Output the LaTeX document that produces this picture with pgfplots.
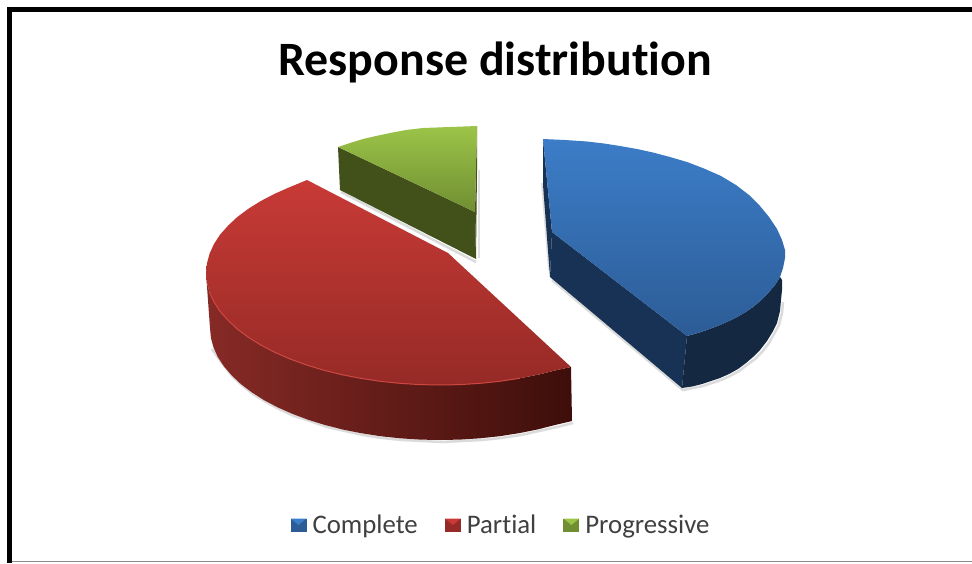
\documentclass[border=0pt]{standalone}
\usepackage{pgfplots}
\pgfplotsset{compat=1.18}
\usepackage{fontspec}
\setmainfont[Ligatures=CommonOff]{Carlito}
\definecolor{redtop}{RGB}{200,58,54}
\definecolor{redbot}{RGB}{150,42,38}
\definecolor{redsideL}{RGB}{135,42,38}
\definecolor{redsideR}{RGB}{62,14,10}
\definecolor{redrim}{RGB}{205,72,66}
\definecolor{bluetop}{RGB}{60,125,200}
\definecolor{bluebot}{RGB}{44,92,150}
\definecolor{blueside}{RGB}{23,50,84}
\definecolor{bluecurve}{RGB}{20,40,66}
\definecolor{greentop}{RGB}{156,196,72}
\definecolor{greenbot}{RGB}{112,142,50}
\definecolor{greenside}{RGB}{66,80,26}
\definecolor{legendtext}{RGB}{64,64,64}
\pgfplotsset{
  swatch/.style n args={2}{legend image code/.code={
    \path[draw=none, fill=none] (0pt,-7pt) rectangle (20pt,7pt);
    \fill[#1, draw=none] (0pt,-6.5pt) rectangle (16pt,6.5pt);
    \fill[#2, draw=none] (0pt,6.5pt) -- (16pt,6.5pt) -- (8pt,0pt) -- cycle;}}
}
\begin{document}
\begin{tikzpicture}
\begin{axis}[
  x=1pt, y=1pt, y dir=reverse,
  xmin=0, xmax=972, ymin=0, ymax=563,
  hide axis, clip=true,
  legend style={draw=none, fill=none, at={(axis cs:501,525)}, anchor=center,
    font=\fontsize{26.8}{30}\selectfont, text=legendtext,
    /tikz/every even column/.append style={column sep=25pt}},
  legend columns=3,
  legend cell align=left,
]
% page background and frame
\addplot[forget plot, fill=white, draw=none] coordinates {(0,0)(972,0)(972,563)(0,563)} -- cycle;
\addplot[forget plot, black, line width=5pt] coordinates {(9.5,563)(9.5,9.5)(972,9.5)};
\addplot[forget plot, black!45, line width=1.5pt] coordinates {(12,561.5)(972,561.5)};

% soft shadows under the slices
\addplot[forget plot, black!35, line width=2.5pt, opacity=.4] coordinates {(341,192)(476,262)};
\addplot[forget plot, black!35, line width=2.5pt, opacity=.4] coordinates {
  (212,349)(219,359)(226,368)(233,377)(243,386)(253,394)(266,402)(279,409)(294,416)(310,421)(327,427)(345,431)(363,435)(382,438)(402,440)(422,441)(442,442)(462,441)(482,440)(501,438)(521,435)(539,431)(557,427)(573,423)};
\addplot[forget plot, black!35, line width=2.5pt, opacity=.4] coordinates {(552,280)(683,390)(693,388)(703,386)(712,383)(721,380)(730,376)(739,371)(747,365)(755,359)(762,352)(769,343)(774,334)(779,325)(782,313)(783,302)};
\addplot[forget plot, black!30, line width=2pt, opacity=.4] coordinates {(479,170)(479,258)};
\addplot[forget plot, black!30, line width=2pt, opacity=.4] coordinates {(542,183)(549,270)};

% Progressive slice
\addplot[forget plot, fill=greenside, draw=none] coordinates {(338,147)(475,212)(476,259)(340,190)} -- cycle;
\addplot[forget plot, fill=greenside, draw=none] coordinates {(477,126)(475,212)(476,259)(477,170)} -- cycle;
\addplot[forget plot, top color=greentop, bottom color=greenbot, draw=none] coordinates {(338,147)(350,143)(363,139)(376,136)(390,133)(406,130)(423,128)(450,127)(477,126)(475,212)} -- cycle;

% Partial slice
\addplot[forget plot, left color=redsideL, right color=redsideR, draw=none] coordinates {
  (571,367)(557,370)(539,374.5)(520,378.2)(500.6,381.2)(480.6,383.3)(460.4,384.6)(440,385)(419.6,384.6)(399.4,383.3)(379.4,381.2)(360,378.2)(341,374.5)(323,370)(305.8,364.7)(289.6,358.8)(274.6,352.2)(260.8,345)(248.3,337.2)(237.3,329)(228,320.3)(220,311.3)(214,302)(209.6,292.4)(207,282.8)(206,273)
  (210,328)(210.9,337.8)(213.5,347.4)(217.8,357)(223.9,366.3)(231.6,375.3)(240.8,384)(251.6,392.2)(263.8,400)(277.4,407.2)(292.2,413.8)(308,419.7)(325,425)(342.7,429.5)(361.3,433.2)(380.4,436.2)(400,438.3)(420,439.6)(440,440)(460,439.6)(480,438.3)(499.6,436.2)(518.7,433.2)(537.3,429.5)(555,425)(572,421)} -- cycle;
\addplot[forget plot, top color=redtop, bottom color=redbot, draw=none] coordinates {
  (307,180)(448,253)(571,367)(557,370)(539,374.5)(520,378.2)(500.6,381.2)(480.6,383.3)(460.4,384.6)(440,385)(419.6,384.6)(399.4,383.3)(379.4,381.2)(360,378.2)(341,374.5)(323,370)(305.8,364.7)(289.6,358.8)(274.6,352.2)(260.8,345)(248.3,337.2)(237.3,329)(228,320.3)(220,311.3)(214,302)(209.6,292.4)(207,282.8)(206,273)(207,263.2)(209.6,253.6)(214,244)(220,234.7)(228,225.7)(237.3,217)(248.3,208.8)(260.8,201)(274.6,193.8)(289.6,187.2)} -- cycle;
\addplot[forget plot, redrim, line width=1pt] coordinates {(520,378.2)(500.6,381.2)(480.6,383.3)(460.4,384.6)(440,385)(419.6,384.6)(399.4,383.3)(379.4,381.2)(360,378.2)(341,374.5)(323,370)(305.8,364.7)(289.6,358.8)(274.6,352.2)(260.8,345)(248.3,337.2)(237.3,329)(228,320.3)(220,311.3)(214,302)(209.6,292.4)};

% Complete slice
\addplot[forget plot, fill=blueside, draw=none] coordinates {(543,139)(552,232)(550,277)(543,185)} -- cycle;
\addplot[forget plot, fill=blueside, draw=none] coordinates {(552,232)(687,336)(682,388)(550,277)} -- cycle;
\addplot[forget plot, fill=bluecurve, draw=none] coordinates {(687,336)(696,333.5)(704,331)(712,328)(720,325)(729,321)(737,317)(745,312.5)(753,307)(762,299.5)(769,292)(775,285)(780,277)(782,280)(782,290)(781,300)(780,311)(777,323)(772.5,332)(767,341)(760,350)(753,357)(746,363)(738,369)(729,374)(720,378)(711,381)(702,384)(692,386.5)(682,388)} -- cycle;
\addplot[forget plot, top color=bluetop, bottom color=bluebot, draw=none] coordinates {
  (543,139)(565,140)(587,141.5)(604,143.5)(620,146)(637,149)(653,152.5)(670,157)(687,162)(704,168.5)(721,176)(736,185)(749,195)(760,206)(769,217)(777,229)(782,240)(785,250)(785,258)(783,268)(780,277)(775,285)(769,292)(762,299.5)(753,307)(745,312.5)(737,317)(729,321)(720,325)(712,328)(704,331)(696,333.5)(687,336)(552,232)} -- cycle;

\addlegendimage{swatch={fill=bluebot}{fill=bluetop}}
\addlegendentry{Complete}
\addlegendimage{swatch={fill=redbot}{fill=redtop}}
\addlegendentry{Partial}
\addlegendimage{swatch={fill=greenbot}{fill=greentop}}
\addlegendentry{Progressive}

\node[font=\fontsize{47.9}{54}\selectfont\bfseries, text=black] at (axis cs:495,62) {Response distribution};
\end{axis}
\end{tikzpicture}
\end{document}
